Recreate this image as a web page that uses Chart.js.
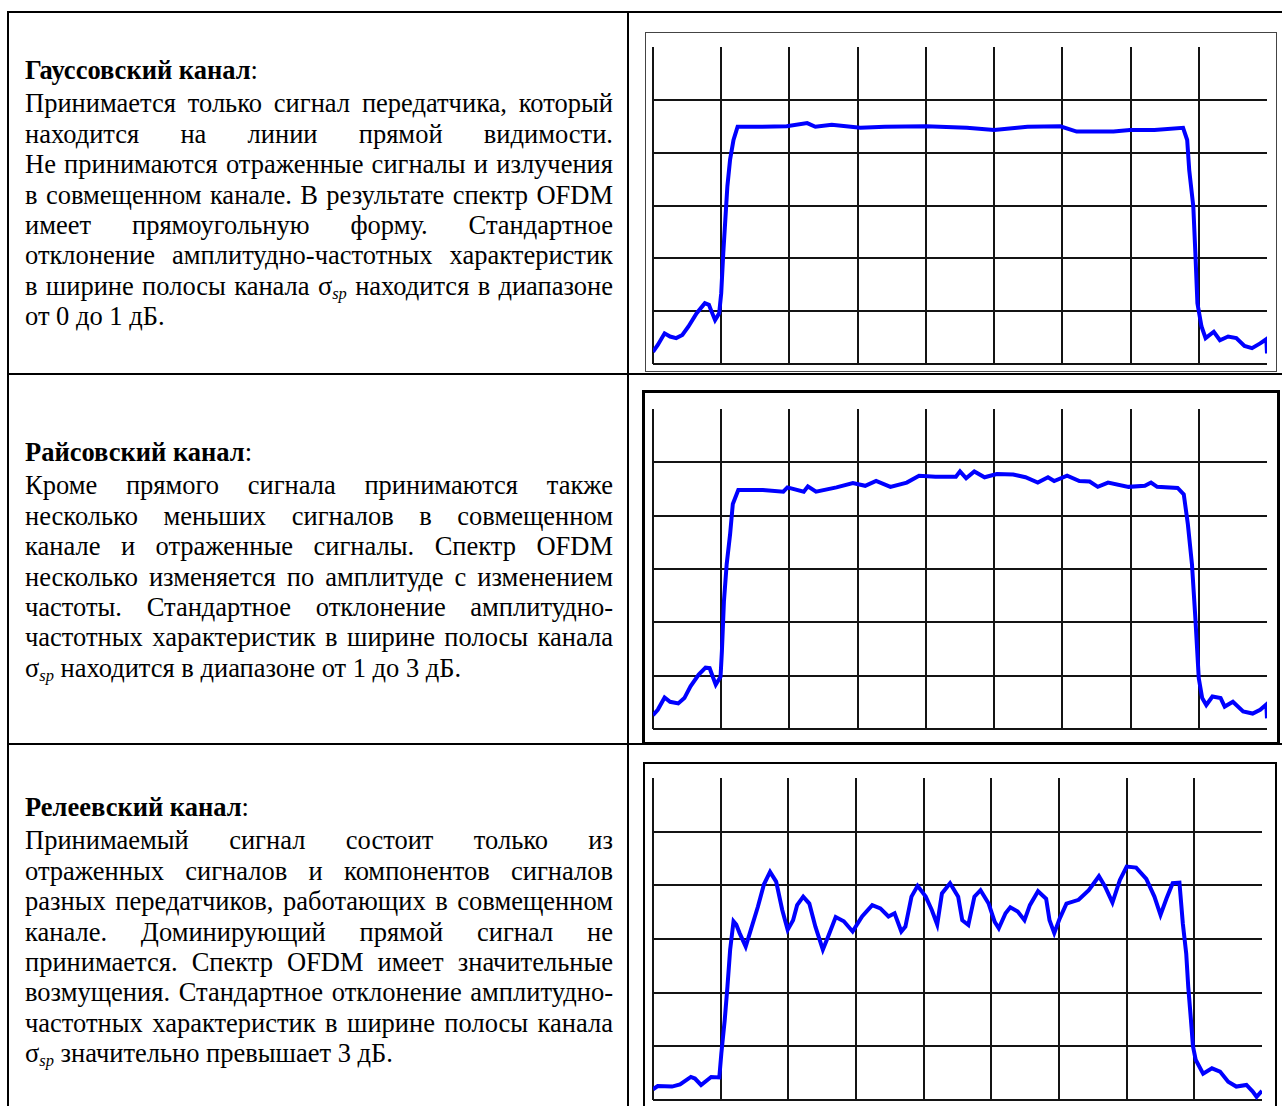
<!DOCTYPE html>
<html lang="ru">
<head>
<meta charset="utf-8">
<title>Спектр OFDM в разных каналах</title>
<script src="https://cdn.jsdelivr.net/npm/chart.js@4.4.1/dist/chart.umd.min.js"></script>
<style>
  html, body { margin: 0; padding: 0; background: #fff; }
  body {
    width: 1282px; height: 1106px; position: relative; overflow: hidden;
    font-family: "Liberation Serif", "Times New Roman", serif; color: #000;
  }
  .rule { position: absolute; background: #000; }
  .cell { position: absolute; left: 25px; width: 588px; font-size: 26.5px; line-height: 30.4px; }
  .cell .title { margin-bottom: 3px; }
  .cell .title b { font-weight: bold; }
  .cell .line { text-align: justify; text-align-last: justify; }
  .cell .line.last { text-align: left; text-align-last: left; }
  sub { font-size: 0.62em; vertical-align: -0.22em; line-height: 0; font-style: italic; }
  .frame { position: absolute; box-sizing: border-box; }
  canvas { position: absolute; }
</style>
</head>
<body>

<!-- table rules -->
<div class="rule" style="left:7px; top:11px; width:1275px; height:2px;"></div>
<div class="rule" style="left:7px; top:11px; width:2px; height:1095px;"></div>
<div class="rule" style="left:627px; top:11px; width:2px; height:1095px;"></div>
<div class="rule" style="left:7px; top:373px; width:1275px; height:2px;"></div>
<div class="rule" style="left:7px; top:743px; width:1275px; height:2px;"></div>

<!-- text cells -->
<div class="cell" style="top:55px;">
  <div class="title"><b>Гауссовский канал</b>:</div>
  <div class="line">Принимается только сигнал передатчика, который</div>
  <div class="line">находится на линии прямой видимости.</div>
  <div class="line">Не принимаются отраженные сигналы и излучения</div>
  <div class="line">в совмещенном канале. В результате спектр OFDM</div>
  <div class="line">имеет прямоугольную форму. Стандартное</div>
  <div class="line">отклонение амплитудно-частотных характеристик</div>
  <div class="line">в ширине полосы канала σ<sub>sp</sub> находится в диапазоне</div>
  <div class="line last">от 0 до 1 дБ.</div>
</div>

<div class="cell" style="top:437px;">
  <div class="title"><b>Райсовский канал</b>:</div>
  <div class="line">Кроме прямого сигнала принимаются также</div>
  <div class="line">несколько меньших сигналов в совмещенном</div>
  <div class="line">канале и отраженные сигналы. Спектр OFDM</div>
  <div class="line">несколько изменяется по амплитуде с изменением</div>
  <div class="line">частоты. Стандартное отклонение амплитудно-</div>
  <div class="line">частотных характеристик в ширине полосы канала</div>
  <div class="line last">σ<sub>sp</sub> находится в диапазоне от 1 до 3 дБ.</div>
</div>

<div class="cell" style="top:792px;">
  <div class="title"><b>Релеевский канал</b>:</div>
  <div class="line">Принимаемый сигнал состоит только из</div>
  <div class="line">отраженных сигналов и компонентов сигналов</div>
  <div class="line">разных передатчиков, работающих в совмещенном</div>
  <div class="line">канале. Доминирующий прямой сигнал не</div>
  <div class="line">принимается. Спектр OFDM имеет значительные</div>
  <div class="line">возмущения. Стандартное отклонение амплитудно-</div>
  <div class="line">частотных характеристик в ширине полосы канала</div>
  <div class="line last">σ<sub>sp</sub> значительно превышает 3 дБ.</div>
</div>

<!-- picture frames -->
<div class="frame" style="left:645px; top:32px; width:632px; height:340px; border:1px solid #444;"></div>
<div class="frame" style="left:642px; top:390px; width:638px; height:355px; border:3px solid #000;"></div>
<div class="frame" style="left:643px; top:762px; width:634px; height:360px; border:2px solid #000;"></div>

<canvas id="gaussChart" style="left:649px; top:43px;" width="622" height="325"></canvas>
<canvas id="riceChart" style="left:649px; top:405px;" width="622" height="328"></canvas>
<canvas id="rayleighChart" style="left:649px; top:774px;" width="617" height="330"></canvas>

<script>
// grid units: x from 0 to 9 divisions, y from 0 to 6 divisions
const gaussX = [0, 0.07, 0.17, 0.25, 0.34, 0.43, 0.52, 0.64, 0.76, 0.82, 0.85, 0.91, 0.97, 1.0, 1.03, 1.06, 1.09, 1.13, 1.18, 1.24,
  1.6, 1.96, 2.26, 2.38, 2.62, 3.04, 3.4, 4.0, 4.6, 5.0, 5.49, 5.97, 6.21, 6.75, 6.99, 7.35, 7.77,
  7.83, 7.86, 7.92, 7.95, 7.98, 8.04, 8.1, 8.22, 8.31, 8.43, 8.55, 8.67, 8.78, 8.9, 8.99, 9.0];
const gaussY = [0.23, 0.36, 0.58, 0.52, 0.49, 0.55, 0.71, 0.96, 1.15, 1.12, 1.02, 0.83, 0.96, 1.34, 2.1, 2.73, 3.36, 3.87, 4.24, 4.49,
  4.49, 4.5, 4.56, 4.49, 4.53, 4.47, 4.49, 4.5, 4.47, 4.43, 4.49, 4.5, 4.4, 4.4, 4.43, 4.43, 4.47,
  4.24, 3.67, 2.98, 2.1, 1.15, 0.71, 0.49, 0.61, 0.45, 0.52, 0.49, 0.34, 0.3, 0.39, 0.47, 0.2];

const riceX = [0, 0.07, 0.17, 0.25, 0.37, 0.46, 0.55, 0.67, 0.77, 0.83, 0.92, 0.99, 1.01, 1.04, 1.08, 1.13, 1.17, 1.25,
  1.61, 1.91, 1.97, 2.21, 2.27, 2.39, 2.69, 2.93, 3.11, 3.27, 3.48, 3.72, 3.9, 4.14, 4.44, 4.5, 4.59, 4.71, 4.86,
  5.04, 5.28, 5.46, 5.64, 5.79, 5.88, 6.07, 6.25, 6.4, 6.52, 6.67, 6.97, 7.21, 7.3, 7.39, 7.69, 7.78,
  7.84, 7.9, 7.95, 8.0, 8.05, 8.11, 8.2, 8.32, 8.38, 8.5, 8.65, 8.79, 8.9, 8.99, 9.0];
const riceY = [0.26, 0.36, 0.59, 0.51, 0.48, 0.58, 0.8, 1.02, 1.15, 1.14, 0.83, 0.98, 1.46, 2.4, 3.09, 3.65, 4.22, 4.48,
  4.48, 4.45, 4.53, 4.45, 4.55, 4.45, 4.53, 4.61, 4.56, 4.65, 4.54, 4.62, 4.75, 4.73, 4.73, 4.83, 4.7, 4.83, 4.72,
  4.78, 4.77, 4.72, 4.62, 4.72, 4.65, 4.75, 4.65, 4.64, 4.54, 4.62, 4.54, 4.56, 4.62, 4.54, 4.52, 4.4,
  3.84, 3.09, 2.08, 0.95, 0.58, 0.45, 0.61, 0.58, 0.42, 0.51, 0.33, 0.29, 0.36, 0.46, 0.2];

const rayleighX = [0, 0.07, 0.28, 0.4, 0.56, 0.62, 0.71, 0.86, 0.98, 1.01, 1.06, 1.1, 1.14, 1.19, 1.23, 1.28, 1.37, 1.46,
  1.55, 1.64, 1.73, 1.82, 1.91, 1.99, 2.07, 2.13, 2.22, 2.31, 2.4, 2.51, 2.58, 2.7, 2.82, 2.95, 3.09, 3.24, 3.36,
  3.48, 3.57, 3.67, 3.73, 3.82, 3.91, 4.03, 4.12, 4.2, 4.27, 4.39, 4.51, 4.57, 4.66, 4.75, 4.84, 4.96, 5.05,
  5.11, 5.21, 5.28, 5.39, 5.49, 5.57, 5.69, 5.81, 5.86, 5.93, 6.01, 6.11, 6.29, 6.44, 6.59, 6.68, 6.79, 6.9,
  7.0, 7.14, 7.29, 7.41, 7.5, 7.59, 7.68, 7.78, 7.83, 7.88, 7.91, 7.95, 7.98, 8.02, 8.13, 8.26, 8.38, 8.5,
  8.62, 8.77, 8.86, 8.92, 9.0];
const rayleighY = [0.2, 0.26, 0.25, 0.29, 0.43, 0.4, 0.28, 0.43, 0.42, 0.87, 1.49, 2.11, 2.8, 3.33, 3.27, 3.11, 2.86, 3.23,
  3.6, 4.02, 4.25, 4.07, 3.54, 3.17, 3.35, 3.63, 3.79, 3.66, 3.23, 2.8, 3.02, 3.41, 3.33, 3.14, 3.42, 3.63, 3.57,
  3.42, 3.48, 3.14, 3.23, 3.79, 3.99, 3.79, 3.54, 3.27, 3.85, 4.04, 3.79, 3.35, 3.26, 3.79, 3.91, 3.66, 3.32,
  3.2, 3.48, 3.59, 3.51, 3.35, 3.63, 3.89, 3.75, 3.35, 3.11, 3.38, 3.66, 3.73, 3.91, 4.17, 3.98, 3.68, 4.1,
  4.35, 4.33, 4.12, 3.79, 3.45, 3.76, 4.04, 4.05, 3.29, 2.73, 2.11, 1.49, 1.0, 0.75, 0.49, 0.59, 0.53, 0.34,
  0.25, 0.28, 0.16, 0.06, 0.17];

const X_DIVS = 9;
const Y_DIVS = 6;
const gridColor = "#141414";

const chartConfig = (xs, ys) => {
  const points = xs.map((x, i) => ({ x: x, y: ys[i] }));
  return {
    type: "line",
    data: {
      datasets: [
        {
          data: points,
          borderColor: "#0000ff",
          borderWidth: 4,
          pointRadius: 0,
          tension: 0,
          fill: false,
        },
      ],
    },
    options: {
      responsive: false,
      animation: false,
      layout: { padding: 4 },
      plugins: { legend: { display: false }, tooltip: { enabled: false } },
      scales: {
        x: {
          type: "linear",
          min: 0,
          max: X_DIVS,
          ticks: { display: false, stepSize: 1 },
          border: { display: false },
          // the last vertical line is missing on the original screens
          grid: {
            drawTicks: false,
            lineWidth: 2,
            color: (c) => (c.tick && c.tick.value < X_DIVS ? gridColor : "rgba(0,0,0,0)"),
          },
        },
        y: {
          min: 0,
          max: Y_DIVS,
          ticks: { display: false, stepSize: 1 },
          border: { display: false },
          grid: {
            drawTicks: false,
            lineWidth: 2,
            color: (c) => (c.tick && c.tick.value < Y_DIVS ? gridColor : "rgba(0,0,0,0)"),
          },
        },
      },
    },
  };
};

new Chart(document.getElementById("gaussChart"), chartConfig(gaussX, gaussY));
new Chart(document.getElementById("riceChart"), chartConfig(riceX, riceY));
new Chart(document.getElementById("rayleighChart"), chartConfig(rayleighX, rayleighY));
</script>
</body>
</html>
